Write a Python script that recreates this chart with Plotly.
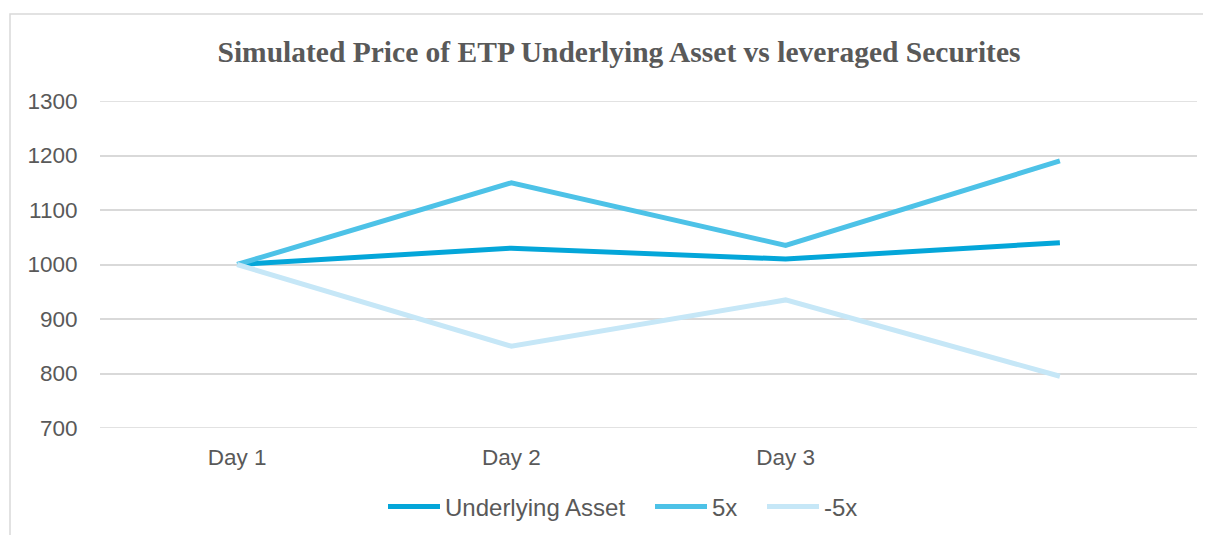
import plotly.graph_objects as go

categories = ["Day 1", "Day 2", "Day 3", " "]
underlying = [1000, 1030, 1010, 1040]
five_x = [1000, 1150, 1035, 1190]
minus_five_x = [1000, 850, 935, 795]
y_ticks = [700, 800, 900, 1000, 1100, 1200, 1300]

series = [
    ("Underlying Asset", underlying, "#04a6d9"),
    ("5x", five_x, "#4dc2e7"),
    ("-5x", minus_five_x, "#c6e7f7"),
]
legend_ids = ["legend", "legend2", "legend3"]
legend_left_px = [388, 655, 767]   # where each legend line starts in the reference

# page body has an 8px margin; work in figure coordinates (reference - 8)
OFF = 8
W, H = 1211 - OFF, 535 - OFF
L, R, T, B = 100 - OFF, W - (1197 - OFF), 101 - OFF, H - (428 - OFF)
pw, ph = W - L - R, H - T - B
FS = 22.5
LFS = 24
LEG_PAD = 5

fig = go.Figure()
for (name, vals, color), lid in zip(series, legend_ids):
    fig.add_trace(go.Scatter(x=categories, y=vals, name=name, mode="lines",
                             line=dict(color=color, width=5), legend=lid))

legends = {}
for lid, px in zip(legend_ids, legend_left_px):
    legends[lid] = dict(orientation="h", x=(px - LEG_PAD - 100) / pw, xanchor="left",
                        yref="container", y=1 - (507 - OFF) / H, yanchor="middle",
                        bgcolor="rgba(0,0,0,0)",
                        font=dict(size=LFS, color="#595959"), itemwidth=52)

shapes = [dict(type="rect", xref="paper", yref="paper",
               x0=(10 - 100) / pw, x1=(1240 - 100) / pw,
               y0=(428 - 560) / ph, y1=(428 - 14) / ph,
               line=dict(color="#d9d9d9", width=1.5), layer="below")]
for v in (y_ticks[0], y_ticks[-1]):
    shapes.append(dict(type="line", xref="paper", yref="y", x0=0, x1=1, y0=v, y1=v,
                       line=dict(color="#d9d9d9", width=1.5), layer="below"))

fig.update_layout(
    width=W, height=H,
    margin=dict(l=L, r=R, t=T, b=B),
    paper_bgcolor="white", plot_bgcolor="white",
    title=dict(text="<b>Simulated Price of ETP Underlying Asset vs leveraged Securites</b>",
               x=(619 - OFF) / W, xanchor="center", y=1 - (52 - OFF) / H, yanchor="middle",
               font=dict(family="Liberation Serif, Times New Roman, serif", size=29.5, color="#595959")),
    font=dict(family="Liberation Sans, Arial, sans-serif", size=FS, color="#595959"),
    xaxis=dict(type="category", range=[-0.5, 3.5], showgrid=False, zeroline=False,
               showline=False, ticks="outside", ticklen=9, tickcolor="rgba(0,0,0,0)",
               tickfont=dict(size=FS, color="#595959")),
    yaxis=dict(range=[700, 1300], tickvals=y_ticks, showgrid=True, gridcolor="#d9d9d9",
               gridwidth=1.5, zeroline=False, showline=False, ticks="outside", ticklen=17,
               tickcolor="rgba(0,0,0,0)", tickfont=dict(size=FS, color="#595959")),
    showlegend=True,
    shapes=shapes,
    **legends,
)

fig.write_html("out.html")
